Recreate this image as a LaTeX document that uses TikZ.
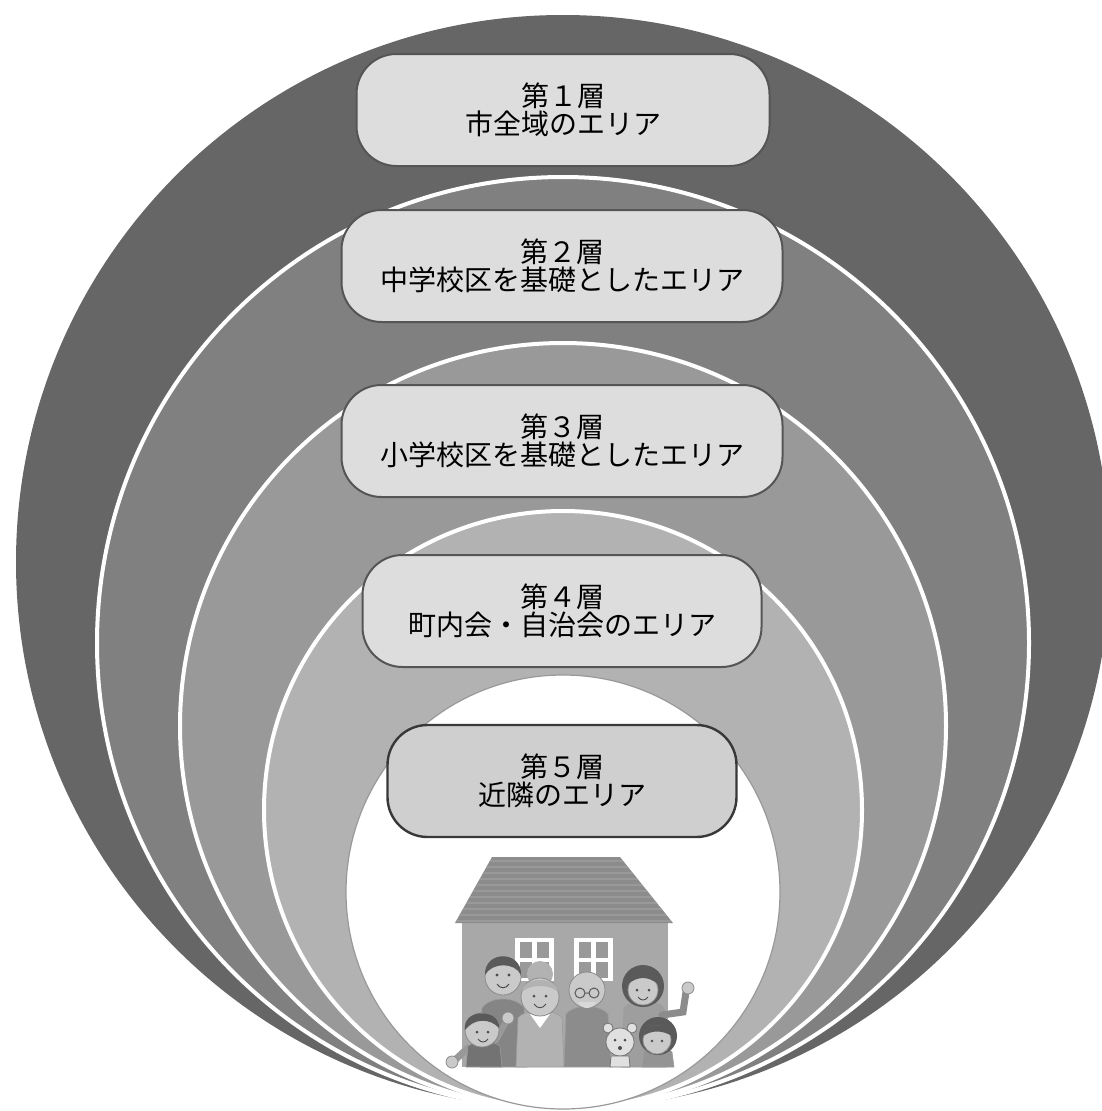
\documentclass[tikz,border=0pt]{standalone}
\usepackage{fontspec}
\newfontfamily\jpfont{Noto Sans CJK JP}
\definecolor{ringA}{HTML}{666666}
\definecolor{ringB}{HTML}{808080}
\definecolor{ringC}{HTML}{999999}
\definecolor{ringD}{HTML}{B2B2B2}
\definecolor{boxfill}{HTML}{DDDDDD}
\definecolor{boxline}{HTML}{555555}
\definecolor{roofgrey}{HTML}{8C8C8C}
\definecolor{wallgrey}{HTML}{A8A8A8}
\definecolor{skin}{HTML}{CACACA}
\definecolor{hair}{HTML}{5A5A5A}
\begin{document}
\begin{tikzpicture}[x=1pt,y=-1pt,
  ring/.style={draw=white,line width=4pt},
  layerbox/.style={draw=boxline,fill=boxfill,line width=2pt,rounded corners=40pt,
    minimum height=112pt,align=center,inner sep=0pt,
    font=\jpfont\fontsize{28}{28}\selectfont},
  face/.style={fill=skin,draw=hair!70,line width=0.8pt},
  hairdo/.style={fill=hair},
  cloth/.style={draw=hair!60,line width=0.6pt}]
\useasboundingbox (0,0) rectangle (1102,1111);
\clip (0,0) rectangle (1102,1111);

% nested areas, all touching at the bottom point
\coordinate (base) at (563,1109);
\fill[ringA] (563,562) circle[radius=547pt];
\filldraw[ringB,ring] (563,643) circle[radius=466pt];
\filldraw[ringC,ring] (563,726) circle[radius=383pt];
\filldraw[ringD,ring] (563,810) circle[radius=299pt];
\filldraw[fill=white,draw=gray!80,line width=1.2pt] (563,892) circle[radius=217pt];

% layer labels
\node[layerbox,minimum width=413pt] (l1) at (563,110) {第１層\\市全域のエリア};
\node[layerbox,minimum width=441pt] (l2) at (562,266) {第２層\\中学校区を基礎としたエリア};
\node[layerbox,minimum width=441pt] (l3) at (562,441) {第３層\\小学校区を基礎としたエリア};
\node[layerbox,minimum width=399pt] (l4) at (562,611) {第４層\\町内会・自治会のエリア};
\node[layerbox,minimum width=349pt,fill=black!19,draw=black!78,line width=2.4pt] (l5) at (562,781) {第５層\\近隣のエリア};

% house
\fill[wallgrey] (462,920) rectangle (668,1067);
\begin{scope}
  \clip (492,857) -- (620,857) -- (673,923) -- (455,923) -- cycle;
  \fill[roofgrey] (450,855) rectangle (680,925);
  \foreach \yy in {861,867,...,921}
    \draw[black!35,line width=1.2pt,opacity=0.5] (450,\yy) -- (680,\yy);
\end{scope}
\foreach \wx in {515,574} {
  \fill[white] (\wx,938) rectangle ++(39,43);
  \fill[black!40] (\wx+5,942) rectangle ++(12,16);
  \fill[black!40] (\wx+22,942) rectangle ++(12,16);
  \fill[black!40] (\wx+5,962) rectangle ++(12,16);
  \fill[black!40] (\wx+22,962) rectangle ++(12,16);
}

% family: father
\fill[black!48,cloth] (480,1067) -- (482,1008) .. controls (490,996) and (516,996) .. (524,1008) -- (527,1067) -- cycle;
\filldraw[face] (503,977) circle[radius=18pt];
\fill[hairdo] (485,975) .. controls (484,950) and (522,950) .. (521,975) .. controls (515,962) and (492,962) .. cycle;
\fill[black!70] (497,975) circle[radius=1.6pt] (509,975) circle[radius=1.6pt];
\draw[black!70,line width=1pt] (497,984) .. controls (500,989) and (506,989) .. (509,984);
% mother
\fill[black!38,cloth] (622,1067) -- (624,1008) .. controls (632,998) and (656,998) .. (664,1008) -- (666,1067) -- cycle;
\draw[black!45,line width=7pt,line cap=round] (662,1015) -- (683,1012) -- (686,992);
\filldraw[face] (688,988) circle[radius=6pt];
\fill[hairdo] (643,986) circle[radius=21pt];
\filldraw[face] (643,990) circle[radius=15pt];
\fill[hairdo] (628,984) .. controls (630,968) and (656,968) .. (658,984) .. controls (648,976) and (638,976) .. cycle;
\fill[black!70] (637,990) circle[radius=1.5pt] (649,990) circle[radius=1.5pt];
\draw[black!70,line width=0.9pt] (638,997) .. controls (641,1001) and (645,1001) .. (648,997);
% grandma
\fill[black!30,cloth] (516,1067) -- (518,1018) .. controls (526,1008) and (554,1008) .. (562,1018) -- (564,1067) -- cycle;
\fill[white] (530,1014) -- (540,1028) -- (550,1014) -- cycle;
\fill[black!30] (540,974) circle[radius=13pt];
\filldraw[face] (540,997) circle[radius=19pt];
\fill[black!30] (522,992) .. controls (522,976) and (558,976) .. (558,992) .. controls (550,984) and (530,984) .. cycle;
\fill[black!70] (534,996) circle[radius=1.5pt] (546,996) circle[radius=1.5pt];
\draw[black!70,line width=0.9pt] (534,1004) .. controls (537,1009) and (543,1009) .. (546,1004);
% grandpa
\fill[black!45,cloth] (564,1067) -- (566,1014) .. controls (574,1004) and (600,1004) .. (608,1014) -- (611,1067) -- cycle;
\filldraw[face] (587,990) circle[radius=18pt];
\draw[black!65,line width=1pt] (580,993) circle[radius=5pt] (594,993) circle[radius=5pt] (585,993) -- (589,993);
\fill[white!85!black] (578,1002) .. controls (582,1010) and (592,1010) .. (596,1002) -- cycle;
% boy on the left
\draw[black!40,line width=7pt,line cap=round] (468,1048) -- (455,1060);
\filldraw[face] (452,1062) circle[radius=6pt];
\fill[black!55,cloth] (466,1067) -- (468,1046) .. controls (476,1040) and (492,1040) .. (500,1046) -- (502,1067) -- cycle;
\draw[black!40,line width=6pt,line cap=round] (496,1040) -- (506,1022);
\filldraw[face] (508,1018) circle[radius=6pt];
\filldraw[face] (482,1030) circle[radius=17pt];
\fill[hairdo] (465,1030) .. controls (462,1008) and (500,1008) .. (499,1028) .. controls (490,1018) and (474,1018) .. cycle;
\fill[black!70] (477,1032) circle[radius=1.5pt] (488,1032) circle[radius=1.5pt];
\draw[black!70,line width=0.9pt] (478,1039) .. controls (481,1043) and (485,1043) .. (488,1039);
% girl on the right
\fill[black!42,cloth] (642,1067) -- (644,1052) .. controls (650,1046) and (666,1046) .. (672,1052) -- (674,1067) -- cycle;
\fill[hairdo] (658,1036) circle[radius=19pt];
\filldraw[face] (657,1040) circle[radius=14pt];
\fill[hairdo] (643,1036) .. controls (646,1022) and (670,1022) .. (672,1036) .. controls (662,1030) and (652,1030) .. cycle;
\fill[black!70] (652,1041) circle[radius=1.4pt] (662,1041) circle[radius=1.4pt];
% teddy bear
\filldraw[fill=black!12,draw=black!55,line width=0.8pt] (608,1028) circle[radius=5pt] (632,1028) circle[radius=5pt];
\filldraw[fill=black!12,draw=black!55,line width=0.8pt] (620,1042) circle[radius=14pt];
\fill[black!70] (615,1040) circle[radius=1.5pt] (625,1040) circle[radius=1.5pt] (620,1048) circle[radius=2pt];
\filldraw[fill=black!12,draw=black!55,line width=0.8pt] (610,1067) -- (611,1056) -- (629,1056) -- (630,1067) -- cycle;
\end{tikzpicture}
\end{document}
